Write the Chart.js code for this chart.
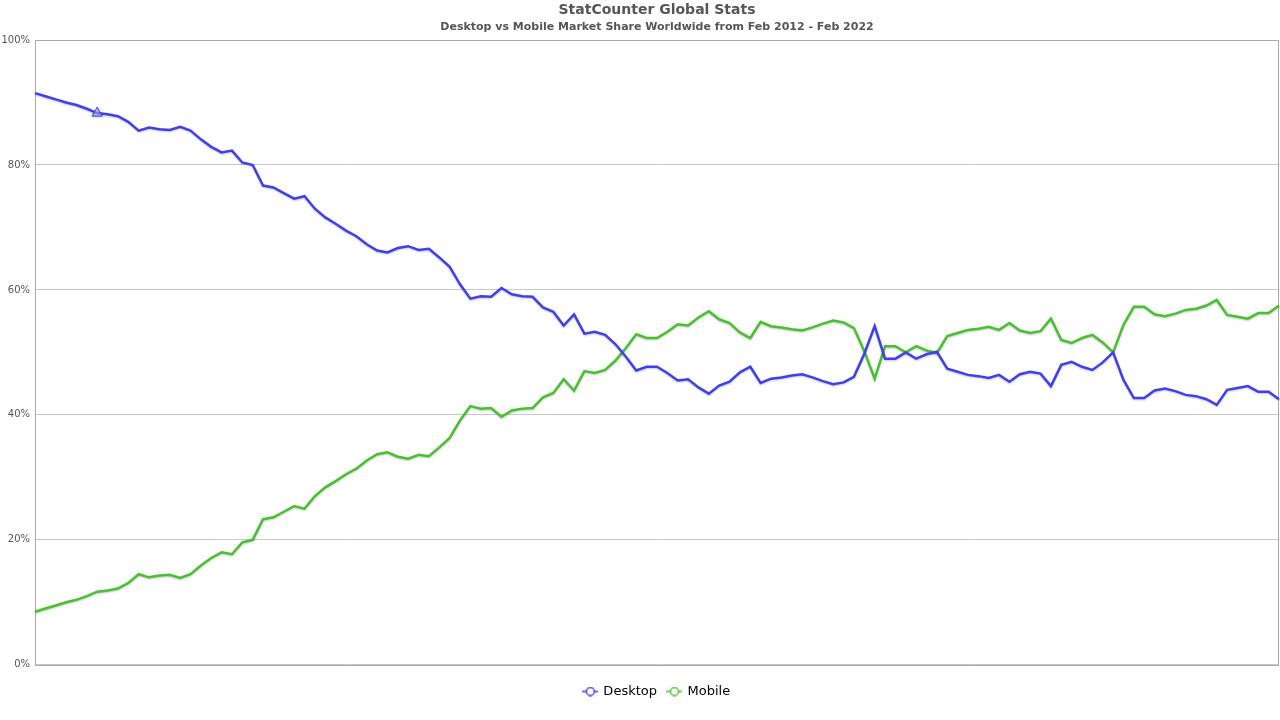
<!DOCTYPE html>
<html>
<head>
<meta charset="utf-8">
<script src="https://cdn.jsdelivr.net/npm/chart.js@4.4.1/dist/chart.umd.min.js"></script>
<style>
  html, body { margin: 0; padding: 0; background: #fff; }
  #wrap { width: 1280px; height: 720px; position: relative; }
</style>
</head>
<body>
<div id="wrap"><canvas id="c"></canvas></div>
<script>
const titleText = "StatCounter Global Stats";
const subtitleText = "Desktop vs Mobile Market Share Worldwide from Feb 2012 - Feb 2022";
const seriesNames = ["Desktop", "Mobile"];
const startYear = 2012, startMonth = 2, monthCount = 121;
const yTicks = [0, 20, 40, 60, 80, 100];

const desktop = [
  91.5, 91.0, 90.5, 90.0, 89.6, 89.0, 88.3, 88.1, 87.8, 86.9,
  85.5, 86.0, 85.7, 85.6, 86.1, 85.5, 84.1, 82.9, 82.0, 82.3,
  80.4, 80.0, 76.7, 76.4, 75.5, 74.6, 75.0, 73.0, 71.6, 70.6,
  69.5, 68.6, 67.3, 66.3, 66.0, 66.7, 67.0, 66.4, 66.6, 65.2,
  63.7, 60.9, 58.6, 59.0, 58.9, 60.3, 59.3, 59.0, 58.9, 57.2,
  56.5, 54.3, 56.1, 53.0, 53.3, 52.8, 51.3, 49.3, 47.1, 47.7,
  47.7, 46.7, 45.5, 45.7, 44.4, 43.4, 44.7, 45.3, 46.8, 47.7,
  45.1, 45.8, 46.0, 46.3, 46.5, 46.0, 45.4, 44.9, 45.2, 46.1,
  49.8, 54.2, 49.0, 49.0, 50.0, 49.0, 49.7, 50.1, 47.4, 46.9,
  46.4, 46.2, 45.9, 46.4, 45.3, 46.5, 46.9, 46.6, 44.6, 48.0,
  48.5, 47.7, 47.2, 48.4, 50.0, 45.6, 42.7, 42.7, 43.9, 44.2,
  43.8, 43.2, 43.0, 42.5, 41.6, 44.0, 44.3, 44.6, 43.7, 43.7,
  42.5
];
const mobile = [
  8.5, 9.0, 9.5, 10.0, 10.4, 11.0, 11.7, 11.9, 12.2, 13.1,
  14.5, 14.0, 14.3, 14.4, 13.9, 14.5, 15.9, 17.1, 18.0, 17.7,
  19.6, 20.0, 23.3, 23.6, 24.5, 25.4, 25.0, 27.0, 28.4, 29.4,
  30.5, 31.4, 32.7, 33.7, 34.0, 33.3, 33.0, 33.6, 33.4, 34.8,
  36.3, 39.1, 41.4, 41.0, 41.1, 39.7, 40.7, 41.0, 41.1, 42.8,
  43.5, 45.7, 43.9, 47.0, 46.7, 47.2, 48.7, 50.7, 52.9, 52.3,
  52.3, 53.3, 54.5, 54.3, 55.6, 56.6, 55.3, 54.7, 53.2, 52.3,
  54.9, 54.2, 54.0, 53.7, 53.5, 54.0, 54.6, 55.1, 54.8, 53.9,
  50.2, 45.8, 51.0, 51.0, 50.0, 51.0, 50.3, 49.9, 52.6, 53.1,
  53.6, 53.8, 54.1, 53.6, 54.7, 53.5, 53.1, 53.4, 55.4, 52.0,
  51.5, 52.3, 52.8, 51.6, 50.0, 54.4, 57.3, 57.3, 56.1, 55.8,
  56.2, 56.8, 57.0, 57.5, 58.4, 56.0, 55.7, 55.4, 56.3, 56.3,
  57.5
];

const months = [];
for (let k = 0; k < monthCount; k++) {
  const m = (startMonth - 1 + k) % 12 + 1;
  const y = startYear + Math.floor((startMonth - 1 + k) / 12);
  months.push(y + "-" + String(m).padStart(2, "0"));
}

const blue = "#3f3fee";
const green = "#48c030";
const FONT = "'DejaVu Sans', sans-serif";

function legendIcon(color) {
  const cv = document.createElement("canvas");
  cv.width = 16; cv.height = 10;
  const g = cv.getContext("2d");
  g.strokeStyle = color; g.lineWidth = 1.5;
  g.beginPath(); g.moveTo(0, 5); g.lineTo(16, 5); g.stroke();
  g.beginPath(); g.arc(8, 5, 4, 0, Math.PI * 2);
  g.fillStyle = "#fff"; g.fill(); g.stroke();
  return cv;
}
const icons = [legendIcon(blue), legendIcon(green)];

const frame = {
  id: "frame",
  beforeDatasetsDraw(chart) {
    const { ctx, chartArea: a } = chart;
    ctx.save();
    ctx.strokeStyle = "#aaa";
    ctx.lineWidth = 1;
    ctx.strokeRect(Math.round(a.left) + 0.5, Math.round(a.top) + 0.5,
                   Math.round(a.right - a.left) - 1, Math.round(a.bottom - a.top));
    ctx.restore();
  },
  beforeDatasetDraw(chart) {
    const ctx = chart.ctx;
    ctx.save();
    ctx.shadowColor = "rgba(0,0,0,0.22)";
    ctx.shadowBlur = 2;
    ctx.shadowOffsetY = 1;
  },
  afterDatasetDraw(chart) { chart.ctx.restore(); }
};

const ptRadius = (c) => (c.datasetIndex === 0 && c.dataIndex === 6 ? 6 : 0);

new Chart(document.getElementById("c"), {
  type: "line",
  data: {
    labels: months,
    datasets: [
      { label: seriesNames[0], data: desktop, borderColor: blue, backgroundColor: "#fff",
        borderWidth: 2.5, tension: 0, pointStyle: "triangle",
        pointRadius: ptRadius, pointHoverRadius: ptRadius,
        pointBackgroundColor: "rgba(170,170,255,0.6)", pointBorderColor: blue, pointBorderWidth: 1 },
      { label: seriesNames[1], data: mobile, borderColor: green, backgroundColor: "#fff",
        borderWidth: 2.5, tension: 0, pointRadius: 0, pointHoverRadius: 0 }
    ]
  },
  options: {
    responsive: true,
    maintainAspectRatio: false,
    animation: false,
    events: [],
    layout: { padding: { left: 0, right: 1, top: 0, bottom: 12 } },
    plugins: {
      title: { display: true, text: titleText, fullSize: false, color: "#555",
               font: { family: FONT, size: 14, weight: "bold" }, padding: { top: 2, bottom: 1 } },
      subtitle: { display: true, text: subtitleText, fullSize: false, color: "#555",
                  font: { family: FONT, size: 11, weight: "bold" }, padding: { top: 1, bottom: 6 } },
      legend: {
        position: "bottom", fullSize: false,
        title: { display: true, text: " ", font: { size: 1 }, padding: { top: 8, bottom: 0 } },
        labels: {
          usePointStyle: true, boxWidth: 16, boxHeight: 10, color: "#000", padding: 11,
          font: { family: FONT, size: 13 },
          generateLabels(chart) {
            const items = Chart.defaults.plugins.legend.labels.generateLabels(chart);
            items.forEach((it, i) => { it.pointStyle = icons[i]; });
            return items;
          }
        }
      },
      tooltip: { enabled: false }
    },
    scales: {
      x: { display: false },
      y: {
        min: 0, max: 100,
        afterFit(s) { s.width = 35; },
        afterBuildTicks(s) { s.ticks = yTicks.map(v => ({ value: v })); },
        ticks: { callback: v => v + "%", color: "#555", padding: 5, font: { family: FONT, size: 10 } },
        grid: { color: "#c8c8c8", drawTicks: false, lineWidth: 1 },
        border: { display: true, color: "#aaa" }
      }
    }
  },
  plugins: [frame]
});
</script>
</body>
</html>
